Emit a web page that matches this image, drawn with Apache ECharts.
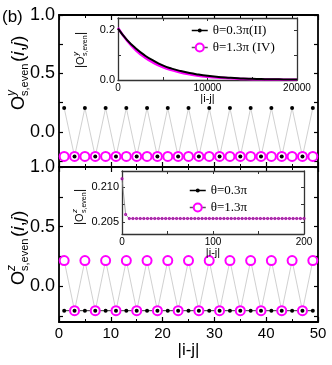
<!DOCTYPE html>
<html>
<head>
<meta charset="utf-8">
<script src="https://cdn.jsdelivr.net/npm/echarts@6/dist/echarts.min.js"></script>
<style>
html, body { margin: 0; padding: 0; background: #fff; }
#chart { width: 332px; height: 365px; }
</style>
</head>
<body>
<div id="chart"></div>
<script>
// |i-j| in the main panels (odd distances)
const dist = [1, 3, 5, 7, 9, 11, 13, 15, 17, 19, 21, 23, 25, 27, 29, 31, 33, 35, 37, 39, 41, 43, 45, 47, 49]
// O^y_s,even
const oyTheta03 = [0.205, -0.21, 0.205, -0.21, 0.205, -0.21, 0.205, -0.21, 0.205, -0.21, 0.205, -0.21, 0.205,
  -0.21, 0.205, -0.21, 0.205, -0.21, 0.205, -0.21, 0.205, -0.21, 0.205, -0.21, 0.205]
const oyTheta13 = [-0.21, -0.21, -0.21, -0.21, -0.21, -0.21, -0.21, -0.21, -0.21, -0.21, -0.21, -0.21, -0.21,
  -0.21, -0.21, -0.21, -0.21, -0.21, -0.21, -0.21, -0.21, -0.21, -0.21, -0.21, -0.21]
// O^z_s,even
const ozTheta03 = [-0.205, -0.205, -0.205, -0.205, -0.205, -0.205, -0.205, -0.205, -0.205, -0.205, -0.205, -0.205, -0.205,
  -0.205, -0.205, -0.205, -0.205, -0.205, -0.205, -0.205, -0.205, -0.205, -0.205, -0.205, -0.205]
const ozTheta13 = [0.215, -0.205, 0.215, -0.205, 0.215, -0.205, 0.215, -0.205, 0.215, -0.205, 0.215, -0.205, 0.215,
  -0.205, 0.215, -0.205, 0.215, -0.205, 0.215, -0.205, 0.215, -0.205, 0.215, -0.205, 0.215]

// inset (top): |O^y| decay
const decayDist = [0, 1000, 2000, 3000, 4000, 5000, 6000, 7000, 8000, 9000, 10000,
  11000, 12000, 13000, 14000, 15000, 16000, 17000, 18000, 19000, 20000]
const decayTheta03 = [0.207, 0.162, 0.127, 0.099, 0.077, 0.059, 0.046, 0.036, 0.028, 0.022, 0.017,
  0.013, 0.010, 0.008, 0.006, 0.005, 0.004, 0.003, 0.003, 0.002, 0.002]
const decayTheta13 = [0.210, 0.159, 0.120, 0.091, 0.069, 0.052, 0.040, 0.030, 0.023, 0.017, 0.013,
  0.010, 0.008, 0.006, 0.004, 0.003, 0.003, 0.002, 0.002, 0.001, 0.001]

// inset (bottom): |O^z| saturation
const satDist = [0, 4, 8, 12, 16, 20, 24, 28, 32, 36, 40, 44, 48, 52, 56, 60, 64, 68, 72, 76, 80, 84, 88, 92, 96, 100,
  104, 108, 112, 116, 120, 124, 128, 132, 136, 140, 144, 148, 152, 156, 160, 164, 168, 172, 176, 180, 184, 188, 192, 196, 200]
const satTheta03 = [0.2112, 0.2061, 0.2055, 0.2055, 0.2055, 0.2055, 0.2055, 0.2055, 0.2055, 0.2055, 0.2055, 0.2055, 0.2055,
  0.2055, 0.2055, 0.2055, 0.2055, 0.2055, 0.2055, 0.2055, 0.2055, 0.2055, 0.2055, 0.2055, 0.2055, 0.2055,
  0.2055, 0.2055, 0.2055, 0.2055, 0.2055, 0.2055, 0.2055, 0.2055, 0.2055, 0.2055, 0.2055, 0.2055, 0.2055,
  0.2055, 0.2055, 0.2055, 0.2055, 0.2055, 0.2055, 0.2055, 0.2055, 0.2055, 0.2055, 0.2055, 0.2055]
const satTheta13 = satTheta03.slice()

const mainYLabels = [0, 0.5, 1.0]
const mainYTicks = [-0.25, 0, 0.25, 0.5, 0.75, 1.0]

const FONT = "Liberation Sans"
const SERIF = "Liberation Serif"
const MAGENTA = "#ff00ff"

const zip = (xs, ys) => xs.map((x, i) => [x, ys[i]])

function mainX(grid, pos, labels) {
  return {
    type: "value", gridIndex: grid, position: pos, min: 0, max: 50, interval: 10,
    axisLine: { onZero: false, lineStyle: { color: "#000", width: 1.8 } },
    axisTick: { inside: true, length: 5, lineStyle: { color: "#000", width: 1.2 } },
    minorTick: { show: true, splitNumber: 2, length: 3, lineStyle: { color: "#000", width: 1 } },
    splitLine: { show: false }, minorSplitLine: { show: false },
    axisLabel: { show: labels, color: "#000", fontFamily: FONT, fontSize: 15, margin: 4 }
  }
}

function mainY(grid, pos, labels) {
  return {
    type: "value", gridIndex: grid, position: pos, min: -0.3, max: 1.0,
    axisLine: { onZero: false, lineStyle: { color: "#000", width: 1.8 } },
    axisTick: { inside: true, length: 4, customValues: mainYTicks, lineStyle: { color: "#000", width: 1.2 } },
    splitLine: { show: false },
    axisLabel: {
      show: labels, customValues: mainYLabels, color: "#000", fontFamily: FONT, fontSize: 18, margin: 4,
      formatter: (v) => v.toFixed(1)
    }
  }
}

function insetAxis(grid, pos, cfg) {
  return Object.assign({
    type: "value", gridIndex: grid, position: pos,
    axisLine: { onZero: false, lineStyle: { color: "#333", width: 1.3 } },
    axisTick: { inside: true, length: 3, customValues: cfg.ticks, lineStyle: { color: "#333", width: 1 } },
    splitLine: { show: false },
    axisLabel: {
      show: cfg.labels !== null, customValues: cfg.labels || undefined, color: "#000", fontFamily: FONT,
      fontSize: cfg.fontSize, margin: 3, formatter: cfg.fmt || ((v) => String(v))
    }
  }, cfg.extra)
}

function txt(x, y, text, size, opts) {
  return {
    type: "text", x: x, y: y,
    style: Object.assign({
      text: text, fontSize: size, fontFamily: FONT, fill: "#000",
      align: "left", verticalAlign: "middle", textAlign: "left", textVerticalAlign: "middle"
    }, opts || {})
  }
}

// rotated O^sup_{s,even}(i,j) title
function mainTitle(x, y, sup) {
  return {
    type: "group", x: x, y: y, rotation: Math.PI / 2,
    children: [
      txt(0, 0, "O", 18),
      txt(14, -7, sup, 12, { fontStyle: "italic" }),
      txt(14, 6, "s,even", 11),
      txt(48, 0, "({a|i},{a|j})", 19, { rich: { a: { fontStyle: "italic", fontSize: 19, fontFamily: FONT } } })
    ]
  }
}

function insetTitle(x, y, sup) {
  return {
    type: "group", x: x, y: y, rotation: Math.PI / 2,
    children: [
      txt(0, 0, "|", 12),
      txt(3, 0, "O", 11),
      txt(12, -5, sup, 8, { fontStyle: "italic" }),
      txt(12, 4, "s,even", 7),
      txt(33, 0, "|", 12)
    ]
  }
}

function legendBox(name, left, top, h, line, item) {
  return {
    data: [{ name: name, lineStyle: line, itemStyle: item }],
    left: left, top: top, padding: 0, itemWidth: 16, itemHeight: h, selectedMode: false,
    textStyle: { fontFamily: SERIF, fontSize: 13, color: "#000" }
  }
}

const chart = echarts.init(document.getElementById("chart"))
chart.setOption({
  animation: false,
  backgroundColor: "#fff",
  grid: [
    { left: 59, top: 15, width: 259, height: 152 },
    { left: 59, top: 167, width: 259, height: 155 },
    { left: 118, top: 18, width: 179, height: 62, show: true, backgroundColor: "#fff", borderWidth: 0, z: 3 },
    { left: 122, top: 171, width: 182, height: 63, show: true, backgroundColor: "#fff", borderWidth: 0, z: 3 }
  ],
  xAxis: [
    mainX(0, "bottom", false),
    mainX(0, "top", false),
    Object.assign(mainX(1, "bottom", true), {
      name: "|i-j|", nameLocation: "middle", nameGap: 17,
      nameTextStyle: { fontFamily: FONT, fontSize: 17, color: "#000" }
    }),
    mainX(1, "top", false),
    insetAxis(2, "bottom", {
      ticks: [0, 5000, 10000, 15000, 20000], labels: [0, 10000, 20000], fontSize: 10,
      extra: { min: 0, max: 20000, name: "|i-j|", nameLocation: "middle", nameGap: 12,
        nameTextStyle: { fontFamily: FONT, fontSize: 11, color: "#000" }, z: 4 }
    }),
    insetAxis(2, "top", { ticks: [0, 5000, 10000, 15000, 20000], labels: null, extra: { min: 0, max: 20000, z: 4 } }),
    insetAxis(3, "bottom", {
      ticks: [0, 50, 100, 150, 200], labels: [0, 100, 200], fontSize: 10,
      extra: { min: 0, max: 200, name: "|i-j|", nameLocation: "middle", nameGap: 12,
        nameTextStyle: { fontFamily: FONT, fontSize: 11, color: "#000" }, z: 4 }
    }),
    insetAxis(3, "top", { ticks: [0, 50, 100, 150, 200], labels: null, extra: { min: 0, max: 200, z: 4 } })
  ],
  yAxis: [
    mainY(0, "left", true),
    mainY(0, "right", false),
    mainY(1, "left", true),
    mainY(1, "right", false),
    insetAxis(2, "left", {
      ticks: [0, 0.1, 0.2], labels: [0, 0.2], fontSize: 11, fmt: (v) => v.toFixed(1),
      extra: { min: 0, max: 0.25, z: 4 }
    }),
    insetAxis(2, "right", { ticks: [0, 0.1, 0.2], labels: null, extra: { min: 0, max: 0.25, z: 4 } }),
    insetAxis(3, "left", {
      ticks: [0.205, 0.2075, 0.21], labels: [0.205, 0.21], fontSize: 11, fmt: (v) => v.toFixed(3),
      extra: { min: 0.2033, max: 0.2123, z: 4 }
    }),
    insetAxis(3, "right", { ticks: [0.205, 0.2075, 0.21], labels: null, extra: { min: 0.2033, max: 0.2123, z: 4 } })
  ],
  legend: [
    legendBox("θ=0.3π(II)", 191, 24, 5, { color: "#000", width: 1.5 }),
    legendBox("θ=1.3π (IV)", 191, 41, 10, { color: "#555", width: 1.5 }),
    legendBox("θ=0.3π", 189, 184, 5, { color: "#000", width: 1.5 }),
    legendBox("θ=1.3π", 189, 201, 10, { color: "#555", width: 1.5 }, { color: MAGENTA, opacity: 1 })
  ],
  series: [
    {
      name: "oy13", type: "line", xAxisIndex: 0, yAxisIndex: 0, data: zip(dist, oyTheta13),
      symbol: "emptyCircle", symbolSize: 9, lineStyle: { color: "#aaa", width: 0.8 },
      itemStyle: { color: MAGENTA, borderWidth: 1.5 }
    },
    {
      name: "oy03", type: "line", xAxisIndex: 0, yAxisIndex: 0, data: zip(dist, oyTheta03),
      symbol: "circle", symbolSize: 4, lineStyle: { color: "#c4c4c4", width: 0.8 },
      itemStyle: { color: "#000" }
    },
    {
      name: "oz13", type: "line", xAxisIndex: 2, yAxisIndex: 2, data: zip(dist, ozTheta13),
      symbol: "emptyCircle", symbolSize: 9, lineStyle: { color: "#c4c4c4", width: 0.8 },
      itemStyle: { color: MAGENTA, borderWidth: 1.5 }
    },
    {
      name: "oz03", type: "line", xAxisIndex: 2, yAxisIndex: 2, data: zip(dist, ozTheta03),
      symbol: "circle", symbolSize: 4, lineStyle: { color: "#333", width: 1 },
      itemStyle: { color: "#000" }
    },
    {
      name: "θ=1.3π (IV)", type: "line", xAxisIndex: 4, yAxisIndex: 4, data: zip(decayDist, decayTheta13),
      smooth: true, showSymbol: false, symbol: "emptyCircle", z: 5,
      lineStyle: { color: MAGENTA, width: 2.5 }, itemStyle: { color: MAGENTA }
    },
    {
      name: "θ=0.3π(II)", type: "line", xAxisIndex: 4, yAxisIndex: 4, data: zip(decayDist, decayTheta03),
      smooth: true, showSymbol: false, symbol: "circle", z: 5,
      lineStyle: { color: "#000", width: 2 }, itemStyle: { color: "#000" }
    },
    {
      name: "θ=0.3π", type: "line", xAxisIndex: 6, yAxisIndex: 6, data: zip(satDist, satTheta03),
      symbol: "circle", symbolSize: 2.5, z: 5,
      lineStyle: { color: "#888", width: 0.8 }, itemStyle: { color: "#000" }
    },
    {
      name: "θ=1.3π", type: "line", xAxisIndex: 6, yAxisIndex: 6, data: zip(satDist, satTheta13),
      symbol: "emptyCircle", symbolSize: 1.5, z: 6,
      lineStyle: { width: 0 }, itemStyle: { color: MAGENTA, borderWidth: 0.8, opacity: 0.5 }
    }
  ],
  graphic: {
    elements: [
      txt(2, 17, "(b)", 17),
      mainTitle(19, 110, "y"),
      mainTitle(19, 285, "z"),
      insetTitle(81, 68, "y"),
      insetTitle(80, 225, "z")
    ]
  }
})
</script>
</body>
</html>
